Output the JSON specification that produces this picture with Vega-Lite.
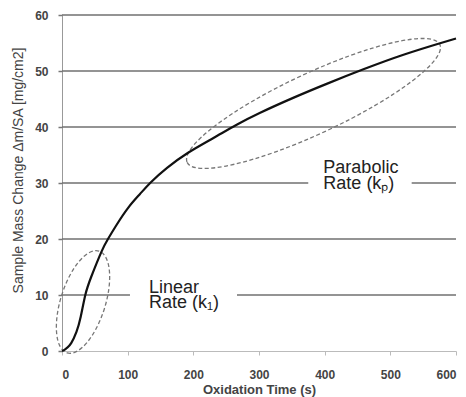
{
  "$schema": "https://vega.github.io/schema/vega-lite/v6.json",
  "width": 394,
  "height": 336,
  "autosize": {"type": "none"},
  "padding": {"left": 62, "top": 15, "right": 10, "bottom": 46},
  "background": "white",
  "config": {"view": {"stroke": null}, "font": "Liberation Sans"},
  "datasets": {
    "curve": [
      {"time": 0, "mass": 0},
      {"time": 3, "mass": 0.15},
      {"time": 8, "mass": 0.6},
      {"time": 14, "mass": 1.4},
      {"time": 22, "mass": 3.4},
      {"time": 28.5, "mass": 6.1},
      {"time": 35.5, "mass": 10},
      {"time": 44.7, "mass": 13.3},
      {"time": 60, "mass": 17.7},
      {"time": 70, "mass": 20},
      {"time": 83, "mass": 22.5},
      {"time": 101, "mass": 25.6},
      {"time": 118.5, "mass": 28.0},
      {"time": 135, "mass": 30.1},
      {"time": 160, "mass": 32.7},
      {"time": 192, "mass": 35.4},
      {"time": 230, "mass": 38.0},
      {"time": 266, "mass": 40.4},
      {"time": 301, "mass": 42.5},
      {"time": 352, "mass": 45.2},
      {"time": 403, "mass": 47.7},
      {"time": 459, "mass": 50.3},
      {"time": 520, "mass": 52.9},
      {"time": 577, "mass": 55.0},
      {"time": 600, "mass": 55.8}
    ],
    "grid": [
      {"mass": 10, "time": 0, "time2": 103.5},
      {"mass": 10, "time": 266.5, "time2": 600},
      {"mass": 20, "time": 0, "time2": 600},
      {"mass": 30, "time": 0, "time2": 375},
      {"mass": 30, "time": 532.5, "time2": 600},
      {"mass": 40, "time": 0, "time2": 600},
      {"mass": 50, "time": 0, "time2": 600},
      {"mass": 60, "time": 0, "time2": 600}
    ],
    "linearRegion": [{"time": 32, "mass": 8.75}],
    "parabolicRegion": [{"time": 383, "mass": 44.2}],
    "labels": [
      {"time": 132.5, "mass": 10.4, "text": "Linear\nRate (k₁)"},
      {"time": 398, "mass": 31.7, "text": "Parabolic\nRate (kₚ)"}
    ]
  },
  "encoding": {
    "x": {
      "field": "time",
      "type": "quantitative",
      "scale": {"domain": [0, 600], "nice": false},
      "axis": {
        "values": [0, 100, 200, 300, 400, 500, 600],
        "grid": false,
        "domainColor": "#bbbbbb",
        "domainWidth": 1,
        "tickColor": "#bbbbbb",
        "tickSize": 4,
        "labelFont": "Liberation Sans",
        "labelFontSize": 12,
        "labelFontWeight": "bold",
        "labelColor": "#444444",
        "labelPadding": 14,
        "title": "Oxidation Time (s)",
        "titleFont": "Liberation Sans",
        "titleFontSize": 13,
        "titleFontWeight": "bold",
        "titleColor": "#444444",
        "titlePadding": 3
      }
    },
    "y": {
      "field": "mass",
      "type": "quantitative",
      "scale": {"domain": [0, 60], "nice": false},
      "axis": {
        "values": [0, 10, 20, 30, 40, 50, 60],
        "grid": false,
        "domainColor": "#999999",
        "domainWidth": 1,
        "tickColor": "#777777",
        "tickWidth": 1.5,
        "tickSize": 4,
        "labelFont": "Liberation Sans",
        "labelFontSize": 12,
        "labelFontWeight": "bold",
        "labelColor": "#444444",
        "labelPadding": 10,
        "title": "Sample Mass Change Δm/SA [mg/cm2]",
        "titleFont": "Liberation Sans",
        "titleFontSize": 14,
        "titleFontWeight": "normal",
        "titleColor": "#444444",
        "titlePadding": 9,
        "titleY": 155
      }
    }
  },
  "layer": [
    {
      "data": {"name": "grid"},
      "mark": {"type": "rule", "stroke": "#707070", "strokeWidth": 1.5},
      "encoding": {"x2": {"field": "time2"}}
    },
    {
      "data": {"name": "linearRegion"},
      "mark": {
        "type": "point",
        "shape": "M -1 0 A 1 0.42 0 1 0 1 0 A 1 0.42 0 1 0 -1 0 Z",
        "size": 11364,
        "angle": -72.6,
        "filled": false,
        "opacity": 1,
        "stroke": "#777777",
        "strokeWidth": 1.3,
        "strokeDash": [4, 2.5]
      }
    },
    {
      "data": {"name": "parabolicRegion"},
      "mark": {
        "type": "point",
        "shape": "M -1 0 A 1 0.217 0 1 0 1 0 A 1 0.217 0 1 0 -1 0 Z",
        "size": 77730,
        "angle": -25,
        "filled": false,
        "opacity": 1,
        "stroke": "#777777",
        "strokeWidth": 1.3,
        "strokeDash": [4, 2.5]
      }
    },
    {
      "data": {"name": "curve"},
      "mark": {"type": "line", "color": "#111111", "strokeWidth": 2.2, "interpolate": "natural"}
    },
    {
      "data": {"name": "labels"},
      "mark": {"type": "text", "align": "left", "baseline": "alphabetic", "font": "Liberation Sans", "fontSize": 18, "lineBreak": "\n", "lineHeight": 15.6, "color": "#222222"},
      "encoding": {"text": {"field": "text"}}
    }
  ]
}
